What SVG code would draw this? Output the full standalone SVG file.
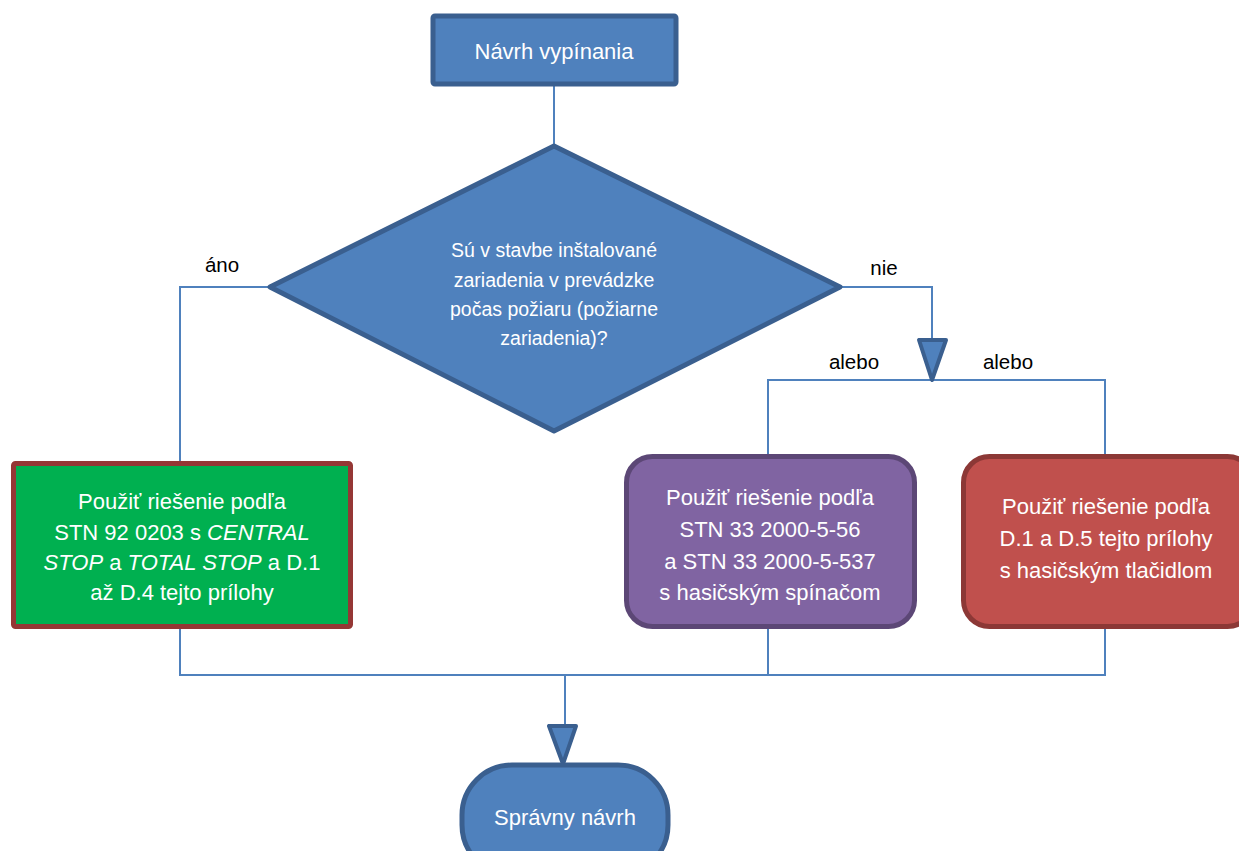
<svg xmlns="http://www.w3.org/2000/svg" width="1239" height="851" viewBox="0 0 1239 851">
<style>
text{font-family:"Liberation Sans",Arial,sans-serif;text-anchor:middle}
.w{fill:#ffffff;font-size:22px}
.q{fill:#ffffff;font-size:19.5px}
.lbl{fill:#000000;font-size:20.5px}
.blue{fill:#4F81BD;stroke:#3A5F8F;stroke-width:5}
.c{fill:none;stroke:#4F81BD;stroke-width:2}
.ah{fill:#4F81BD;stroke:#3A5F8F;stroke-width:4;stroke-linejoin:round}
</style>
<rect width="1239" height="851" fill="#ffffff"/>
<g id="connectors">
<path class="c" d="M554,86 V145"/>
<path class="c" d="M268,287 H180 V462"/>
<path class="c" d="M842,287 H932 V378"/>
<path class="c" d="M768,455 V380 H1105 V455"/>
<path class="c" d="M180,628 V675 H1105 V628"/>
<path class="c" d="M768,628 V675"/>
<path class="c" d="M565,675 V726"/>
<polygon class="ah" points="919,340 946,340 932,380"/>
<polygon class="ah" points="549,726 576,726 563,764"/>
<text class="lbl" x="222" y="272">áno</text>
<text class="lbl" x="884" y="275">nie</text>
<text class="lbl" x="854" y="369">alebo</text>
<text class="lbl" x="1008" y="369">alebo</text>
</g>
<g id="start">
<rect class="blue" x="433" y="16" width="243" height="68" rx="2"/>
<text class="w" x="554" y="59">Návrh vypínania</text>
</g>
<g id="decision">
<polygon class="blue" points="554,146 840,287 554,431 270,287" stroke-linejoin="round"/>
<text class="q" x="554" y="257">Sú v stavbe inštalované</text>
<text class="q" x="554" y="287">zariadenia v prevádzke</text>
<text class="q" x="554" y="316">počas požiaru (požiarne</text>
<text class="q" x="554" y="345">zariadenia)?</text>
</g>
<g id="option-green">
<rect x="13.5" y="463.5" width="337" height="163" fill="#00B050" stroke="#953735" stroke-width="5" rx="2"/>
<text class="w" x="182" y="509">Použiť riešenie podľa</text>
<text class="w" x="182" y="540">STN 92 0203 s <tspan font-style="italic">CENTRAL</tspan></text>
<text class="w" x="182" y="570"><tspan font-style="italic">STOP</tspan> a <tspan font-style="italic">TOTAL STOP</tspan> a D.1</text>
<text class="w" x="182" y="600">až D.4 tejto prílohy</text>
</g>
<g id="option-purple">
<rect x="626.5" y="456.5" width="288" height="170" rx="26" fill="#8064A2" stroke="#5C4776" stroke-width="5"/>
<text class="w" x="770" y="505">Použiť riešenie podľa</text>
<text class="w" x="770" y="537">STN 33 2000-5-56</text>
<text class="w" x="770" y="569">a STN 33 2000-5-537</text>
<text class="w" x="770" y="600">s hasičským spínačom</text>
</g>
<g id="option-red">
<rect x="963.5" y="456.5" width="290" height="170" rx="26" fill="#C0504D" stroke="#8C3836" stroke-width="5"/>
<text class="w" x="1106" y="514">Použiť riešenie podľa</text>
<text class="w" x="1106" y="546">D.1 a D.5 tejto prílohy</text>
<text class="w" x="1106" y="578">s hasičským tlačidlom</text>
</g>
<g id="end">
<rect class="blue" x="462" y="765" width="206" height="110" rx="50"/>
<text class="w" x="565" y="825">Správny návrh</text>
</g>
</svg>
